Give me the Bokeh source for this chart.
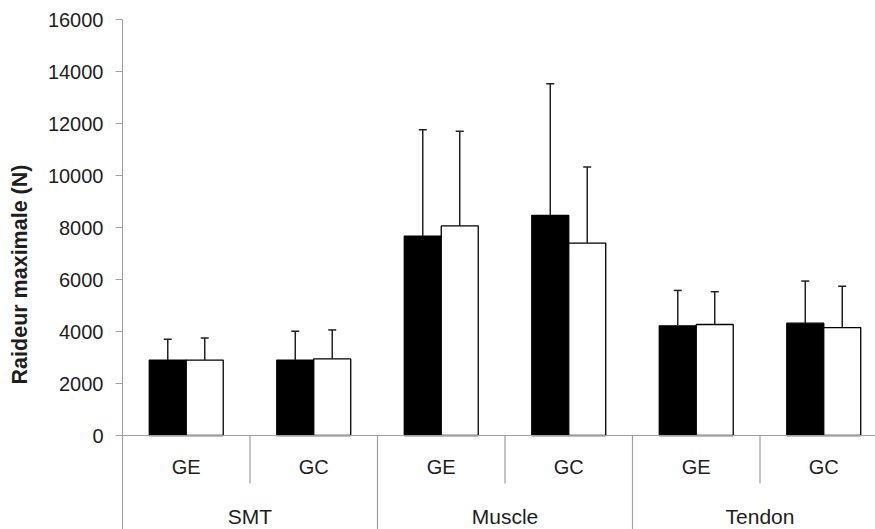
from bokeh.plotting import figure
from bokeh.models import Range1d, FixedTicker, Span, ColumnDataSource
from bokeh.core.properties import value
from bokeh.embed import file_html
from bokeh.resources import INLINE

# ---- data ----
groups = ["SMT", "Muscle", "Tendon"]
subgroups = ["GE", "GC"]
y_ticks = [0, 2000, 4000, 6000, 8000, 10000, 12000, 14000, 16000]
black_means = [2900, 2900, 7670, 8470, 4220, 4320]
black_sd = [800, 1110, 4090, 5060, 1360, 1620]
white_means = [2900, 2950, 8060, 7400, 4270, 4150]
white_sd = [850, 1110, 3640, 2930, 1260, 1590]
y_title = "Raideur maximale (N)"

# ---- layout ----
W, H = 875, 529
LEFT, TOP = 122, 19
CAT_PX = 127.5           # pixels per category
PX_PER_UNIT = 0.026      # pixels per N
x_end = (W - LEFT) / CAT_PX
y_top = 16000
y_bot = y_top - (H - TOP) / PX_PER_UNIT

FONT = "Liberation Sans"
GRAY = "#a0a0a0"
TXT = "#1e1e1e"

p = figure(width=W, height=H, output_backend="svg", toolbar_location=None,
           x_range=Range1d(0, x_end), y_range=Range1d(y_bot, y_top),
           x_axis_location=None, min_border_left=LEFT, min_border_right=0,
           min_border_top=TOP, min_border_bottom=0)
p.outline_line_color = None
p.xgrid.visible = False
p.ygrid.visible = False
p.background_fill_color = "white"
p.border_fill_color = "white"

yax = p.yaxis[0]
yax.ticker = FixedTicker(ticks=y_ticks)
yax.minor_tick_line_color = None
yax.major_tick_in = 0
yax.major_tick_out = 7
yax.major_tick_line_color = GRAY
yax.axis_line_color = GRAY
yax.major_label_standoff = 12
yax.major_label_text_font = FONT
yax.major_label_text_font_size = "20px"
yax.major_label_text_color = TXT
yax.axis_label = y_title
yax.axis_label_text_font = FONT
yax.axis_label_text_font_size = "21.5px"
yax.axis_label_text_font_style = "bold"
yax.axis_label_text_color = TXT
yax.axis_label_standoff = 13

n = len(groups) * len(subgroups)
centers = [i + 0.5 for i in range(n)]
bw = 0.29
off = bw / 2
cap = 0.063

# horizontal base line
p.add_layout(Span(location=0, dimension="width", line_color=GRAY, line_width=1.2))

# bars
for means, sds, fill, sign in [(black_means, black_sd, "black", -1),
                               (white_means, white_sd, "white", 1)]:
    xs = [c + sign * off for c in centers]
    tops = [m + s for m, s in zip(means, sds)]
    src = ColumnDataSource(dict(x=xs, top=means, etop=tops,
                                x0=[x - cap / 2 for x in xs], x1=[x + cap / 2 for x in xs]))
    p.vbar(x="x", top="top", bottom=0, width=bw, source=src,
           fill_color=fill, line_color="black", line_width=1.3)
    p.segment(x0="x", y0="top", x1="x", y1="etop", source=src,
              line_color="#222222", line_width=1.5)
    p.segment(x0="x0", y0="etop", x1="x1", y1="etop", source=src,
              line_color="#222222", line_width=1.5)

# category separators
sub_sep_bottom = -48 / PX_PER_UNIT
sx, sy0, sy1 = [], [], []
for i in range(1, n):
    sx.append(i)
    sy0.append(0)
    sy1.append(y_bot if i % len(subgroups) == 0 else sub_sep_bottom)
p.segment(x0=sx, y0=sy0, x1=sx, y1=sy1, line_color=GRAY, line_width=1.2)

# category labels
sub_labels = [s for g in groups for s in subgroups]
p.text(x=centers, y=[-31.7 / PX_PER_UNIT] * n, text=sub_labels,
       text_font=value(FONT), text_font_size="20px", text_color=TXT,
       text_align="center", text_baseline="middle")
k = len(subgroups)
gx = [gi * k + k / 2 for gi in range(len(groups))]
p.text(x=gx, y=[-81 / PX_PER_UNIT] * len(groups), text=groups,
       text_font=value(FONT), text_font_size="21px", text_color=TXT,
       text_align="center", text_baseline="middle")

open("out.html", "w").write(file_html(p, INLINE))
